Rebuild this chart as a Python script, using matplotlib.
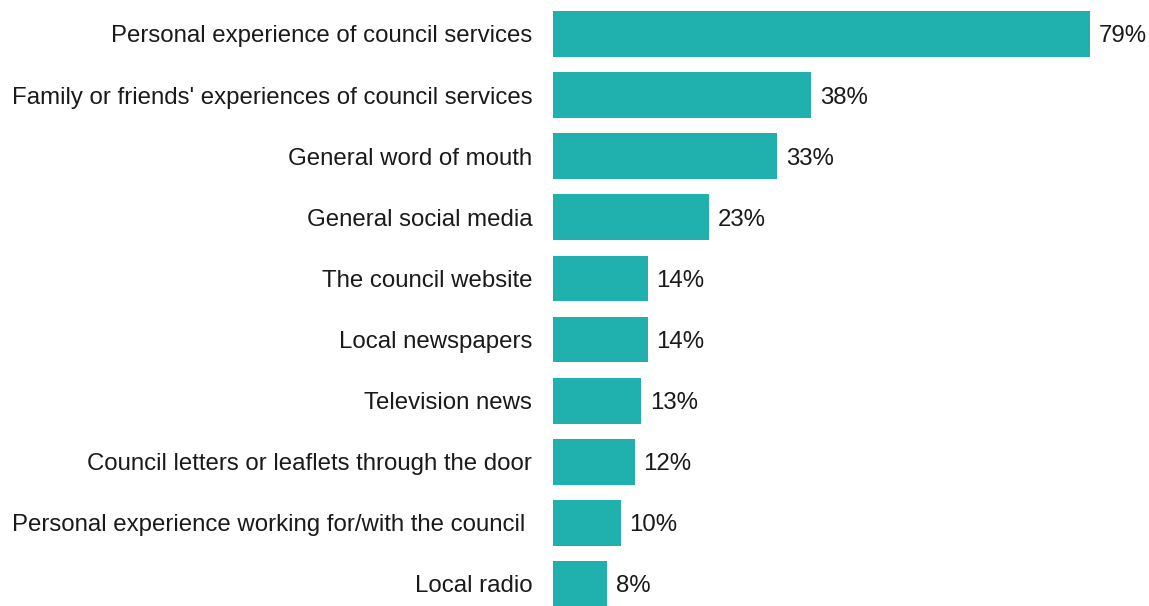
import matplotlib.pyplot as plt

plt.rcParams['font.family'] = ['Liberation Sans', 'DejaVu Sans']

sources = [
    'Personal experience of council services',
    "Family or friends' experiences of council services",
    'General word of mouth',
    'General social media',
    'The council website',
    'Local newspapers',
    'Television news',
    'Council letters or leaflets through the door',
    'Personal experience working for/with the council ',
    'Local radio',
]
shares = [79, 38, 33, 23, 14, 14, 13, 12, 10, 8]

fig = plt.figure(figsize=(11.49, 6.06), dpi=100)
ax = fig.add_axes([553 / 1149, 0, 1 - 553 / 1149, 1])

ypos = list(range(len(sources)))
bars = ax.barh(ypos, shares, height=0.75, color='#20b1ae')

for bar, v in zip(bars, shares):
    ax.annotate(f'{v}%', (bar.get_width(), bar.get_y() + bar.get_height() / 2),
                xytext=(6, 0), textcoords='offset points',
                va='center_baseline', ha='left', fontsize=17.3, color='#1a1a1a')

ax.set_yticks(ypos)
ax.set_yticklabels(sources, fontsize=17.3, color='#1a1a1a', va='center_baseline')
ax.tick_params(axis='y', length=0, pad=15)
ax.set_xticks([])
ax.set_xlim(0, (1149 - 553) / 6.8)
ax.set_ylim(9.36, -0.556)
for s in ax.spines.values():
    s.set_visible(False)

fig.savefig('out.png', dpi=100)
